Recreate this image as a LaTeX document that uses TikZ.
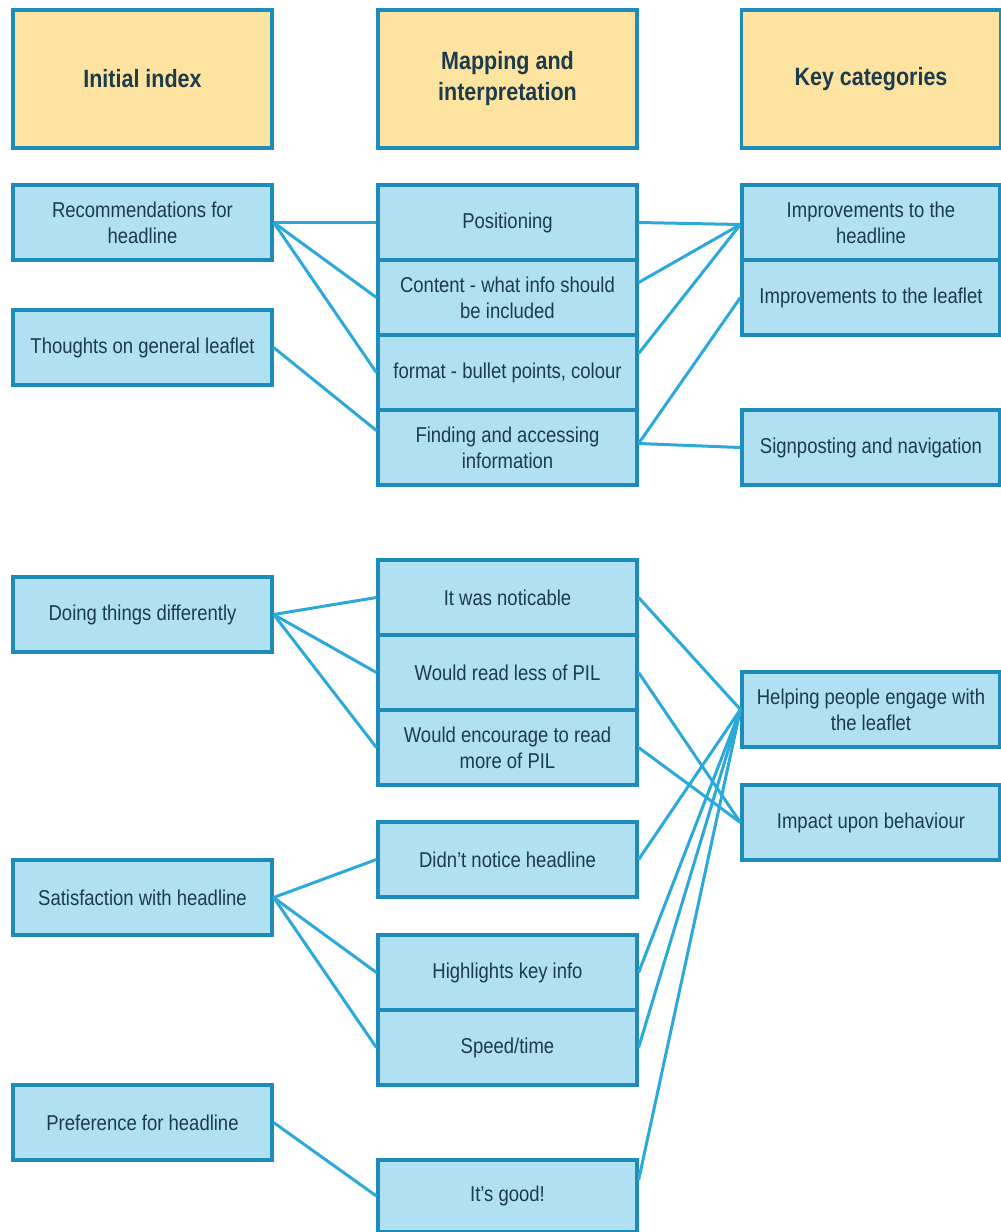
\documentclass[tikz,border=0pt]{standalone}
\usepackage{fontspec}
\setmainfont{Liberation Sans}[FakeStretch=0.86]
\begin{document}
\definecolor{hdrfill}{HTML}{FDE3A0}
\definecolor{boxfill}{HTML}{B0E0F2}
\definecolor{boxline}{HTML}{1E8CBB}
\definecolor{linkline}{HTML}{2AA9DA}
\definecolor{txt}{HTML}{1C3B4C}
\begin{tikzpicture}[x=1pt,y=-1pt,
  box/.style={draw=boxline, fill=boxfill, line width=3.2pt, rectangle,
    minimum width=259pt, minimum height=75pt, inner sep=2pt, align=center,
    text=txt, font=\fontsize{21.5}{26}\selectfont},
  hdr/.style={box, fill=hdrfill, minimum height=138pt,
    font=\fontsize{25}{31}\selectfont\bfseries},
  link/.style={draw=linkline, line width=3pt}]
\useasboundingbox (0,0) rectangle (1001,1232);

% column headers
\node[hdr] (h1) at (142.5,79) {Initial index};
\node[hdr] (h2) at (507.5,79) {Mapping and\\interpretation};
\node[hdr] (h3) at (871,79) {Key categories};

% initial index
\node[box] (rec)  at (142.5,222.5) {Recommendations for\\headline};
\node[box] (tho)  at (142.5,347.5) {Thoughts on general leaflet};
\node[box] (doi)  at (142.5,614.5) {Doing things differently};
\node[box] (sat)  at (142.5,897.5) {Satisfaction with headline};
\node[box] (pre)  at (142.5,1122.5) {Preference for headline};

% mapping and interpretation
\node[box] (pos)  at (507.5,222.5) {Positioning};
\node[box] (con)  at (507.5,297.5) {Content - what info should\\be included};
\node[box] (for)  at (507.5,372.5) {format - bullet points, colour};
\node[box] (fin)  at (507.5,447.5) {Finding and accessing\\information};
\node[box] (not)  at (507.5,597.5) {It was noticable};
\node[box] (les)  at (507.5,672.5) {Would read less of PIL};
\node[box] (enc)  at (507.5,747.5) {Would encourage to read\\more of PIL};
\node[box] (did)  at (507.5,859.5) {Didn't notice headline};
\node[box] (hig)  at (507.5,972.5) {Highlights key info};
\node[box] (spe)  at (507.5,1047.5) {Speed/time};
\node[box, minimum height=72pt] (goo) at (507.5,1196) {It's good!};

% key categories
\node[box, minimum width=258pt] (imh) at (871,222.5) {Improvements to the\\headline};
\node[box, minimum width=258pt] (iml) at (871,297.5) {Improvements to the leaflet};
\node[box, minimum width=258pt] (sig) at (871,447.5) {Signposting and navigation};
\node[box, minimum width=258pt] (hel) at (871,709.5) {Helping people engage with\\the leaflet};
\node[box, minimum width=258pt] (imp) at (871,822.5) {Impact upon behaviour};

% index to mapping
\draw[link] (rec.east) -- (pos.west);
\draw[link] (rec.east) -- (con.west);
\draw[link] (rec.east) -- (for.west);
\draw[link] (tho.east) -- ([yshift=17pt]fin.west);
\draw[link] (doi.east) -- (not.west);
\draw[link] (doi.east) -- (les.west);
\draw[link] (doi.east) -- (enc.west);
\draw[link] (sat.east) -- (did.west);
\draw[link] (sat.east) -- (hig.west);
\draw[link] (sat.east) -- (spe.west);
\draw[link] (pre.east) -- (goo.west);

% mapping to categories
\draw[link] (pos.east) -- ([yshift=-2pt]imh.west);
\draw[link] ([yshift=15pt]con.east) -- ([yshift=-2pt]imh.west);
\draw[link] ([yshift=19pt]for.east) -- ([yshift=-2pt]imh.west);
\draw[link] ([yshift=4pt]fin.east) -- (iml.west);
\draw[link] ([yshift=4pt]fin.east) -- (sig.west);
\draw[link] (not.east) -- (hel.west);
\draw[link] (les.east) -- (imp.west);
\draw[link] (enc.east) -- (imp.west);
\draw[link] (did.east) -- (hel.west);
\draw[link] (hig.east) -- (hel.west);
\draw[link] (spe.east) -- (hel.west);
\draw[link] ([yshift=16pt]goo.east) -- (hel.west);
\end{tikzpicture}
\end{document}
